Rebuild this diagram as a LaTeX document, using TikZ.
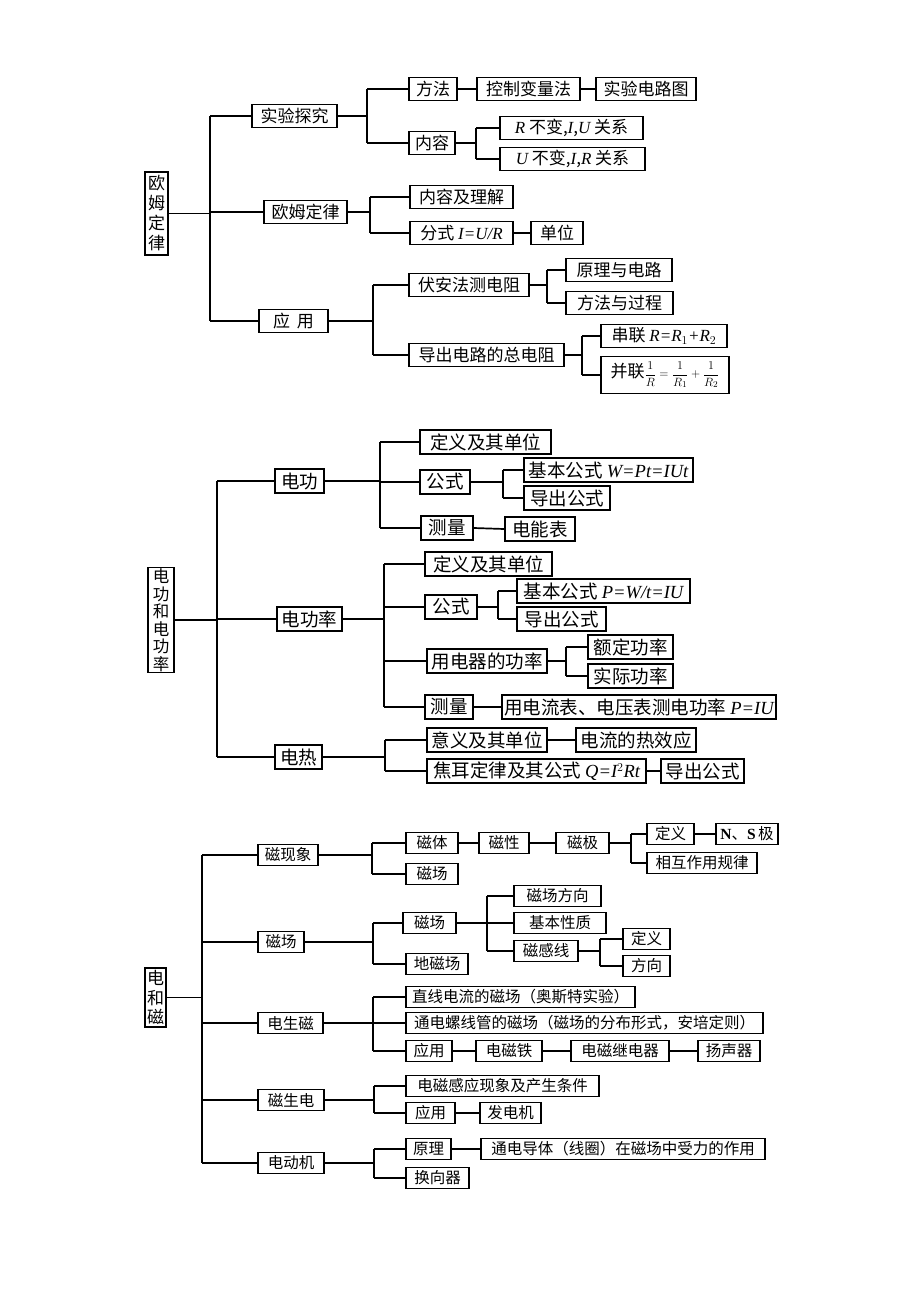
\documentclass[tikz,border=0pt]{standalone}
\usepackage{fontspec}
\setmainfont{Noto Sans CJK SC}
\newfontfamily\lib{Liberation Serif}
\newcommand\lv[1]{{\lib\itshape #1}}
\tikzset{
 bx/.style={draw,line width=1.7pt,inner sep=0pt,minimum height=23pt},
 ln/.style={line width=1.7pt},
}
\newcommand\bx[5]{\node[bx,minimum width={(#3)-(#2)}] (#1) at ({((#2)+(#3))/2},#4) {#5};}
\newcommand\brk[5]{%
 \coordinate (#1-b) at (#2,0);
 \draw[ln] (#1.east) -- (#1-b |- #1.east);
 \draw[ln] (#1-b |- #3.west) -- (#1-b |- #4.west);
 \foreach \c in {#5} {\draw[ln] (#1-b |- \c.west) -- (\c.west);}
}
\newcommand\ch[2]{\draw[ln] (#1.east) -- (#2.west);}
\begin{document}
\begin{tikzpicture}[x=1pt,y=-1pt]
\path[use as bounding box] (0,0) rectangle (920,1302);
\fill[white] (0,0) rectangle (920,1302);

% ---------------- Section 1 ----------------
\begin{scope}[bx/.append style={font=\fontsize{17pt}{20pt}\selectfont}]
\node[bx,minimum width=23,minimum height=83,align=center] (r1) at (156.5,213.5) {欧\\姆\\定\\律};
\bx{a1}{252}{337}{116}{实验探究}
\bx{a2}{264}{347}{212}{欧姆定律}
\bx{a3}{259}{328}{321}{应\hspace{7pt}用}
\brk{r1}{210}{a1}{a3}{a1,a2,a3}

\bx{a11}{409}{457}{89}{方法}
\bx{a111}{477}{580}{89}{控制变量法}
\bx{a112}{596}{696}{89}{实验电路图}
\ch{a11}{a111}\ch{a111}{a112}
\bx{a12}{409}{455}{143}{内容}
\brk{a1}{367}{a11}{a12}{a11,a12}
\bx{a121}{500}{643}{128}{\lv{R} 不变,\lv{I},\lv{U} 关系}
\bx{a122}{500}{645}{159}{\lv{U} 不变,\lv{I},\lv{R} 关系}
\brk{a12}{476}{a121}{a122}{a121,a122}

\bx{a21}{410}{513}{197}{内容及理解}
\bx{a22}{410}{513}{233}{分式 \lv{I=U/R}}
\bx{a221}{531}{583}{233}{单位}
\ch{a22}{a221}
\brk{a2}{370}{a21}{a22}{a21,a22}

\bx{a31}{409}{529}{285}{伏安法测电阻}
\bx{a32}{409}{564}{355}{导出电路的总电阻}
\brk{a3}{373}{a31}{a32}{a31,a32}
\bx{a311}{566}{672}{270}{原理与电路}
\bx{a312}{566}{673}{303}{方法与过程}
\brk{a31}{547}{a311}{a312}{a311,a312}
\bx{a321}{601}{727}{336}{串联 \lv{R=R}$_1$\lv{+R}$_2$}
\node[bx,minimum width=128,minimum height=37] (a322) at (665,375) {并联{\fontsize{13pt}{15pt}\selectfont$\displaystyle\frac{1}{R}=\frac{1}{R_1}+\frac{1}{R_2}$}};
\brk{a32}{582}{a321}{a322}{a321,a322}
\end{scope}

% ---------------- Section 2 ----------------
\begin{scope}[bx/.append style={font=\fontsize{18.5pt}{21pt}\selectfont,minimum height=24pt}]
\node[bx,minimum width=26,minimum height=105,align=center,font=\fontsize{16.5pt}{17.5pt}\selectfont] (r2) at (161,620) {电\\功\\和\\电\\功\\率};
\bx{b1}{275}{324}{481}{电功}
\bx{b2}{277}{342}{619}{电功率}
\bx{b3}{275}{322}{757}{电热}
\brk{r2}{217}{b1}{b3}{b1,b2,b3}

\bx{b11}{420}{551}{442}{定义及其单位}
\bx{b12}{420}{470}{482}{公式}
\bx{b13}{421}{473}{528}{测量}
\brk{b1}{380}{b11}{b13}{b11,b12,b13}
\bx{b121}{524}{693}{470}{基本公式 \lv{W=Pt=IUt}}
\bx{b122}{524}{610}{498}{导出公式}
\brk{b12}{503}{b121}{b122}{b121,b122}
\bx{b131}{505}{575}{529}{电能表}
\ch{b13}{b131}

\bx{b21}{425}{552}{564}{定义及其单位}
\bx{b22}{425}{477}{607}{公式}
\bx{b23}{427}{547}{661}{用电器的功率}
\bx{b24}{425}{473}{707}{测量}
\brk{b2}{384}{b21}{b24}{b21,b22,b23,b24}
\bx{b221}{517}{690}{591}{基本公式 \lv{P=W/t=IU}}
\bx{b222}{517}{606}{619}{导出公式}
\brk{b22}{498}{b221}{b222}{b221,b222}
\bx{b231}{588}{673}{647}{额定功率}
\bx{b232}{588}{673}{676}{实际功率}
\brk{b23}{566}{b231}{b232}{b231,b232}
\bx{b241}{502}{776}{707}{用电流表、电压表测电功率 \lv{P=IU}}
\ch{b24}{b241}

\bx{b31}{427}{547}{740}{意义及其单位}
\bx{b32}{427}{646}{771}{焦耳定律及其公式 \lv{Q=I}$^2$\lv{Rt}}
\brk{b3}{385}{b31}{b32}{b31,b32}
\bx{b311}{576}{696}{740}{电流的热效应}
\bx{b321}{661}{744}{771}{导出公式}
\ch{b31}{b311}\ch{b32}{b321}
\end{scope}

% ---------------- Section 3 ----------------
\begin{scope}[bx/.append style={font=\fontsize{15.5pt}{18pt}\selectfont,minimum height=21pt}]
\node[bx,minimum width=21,minimum height=59,align=center,font=\fontsize{17pt}{19.5pt}\selectfont] (r3) at (155.5,997.5) {电\\和\\磁};
\bx{c1}{258}{318}{855}{磁现象}
\bx{c2}{258}{304}{942}{磁场}
\bx{c3}{258}{323}{1023}{电生磁}
\bx{c4}{258}{324}{1100}{磁生电}
\bx{c5}{258}{324}{1163}{电动机}
\brk{r3}{202}{c1}{c5}{c1,c2,c3,c4,c5}

\bx{c11}{406}{458}{843}{磁体}
\bx{c12}{406}{458}{874}{磁场}
\brk{c1}{372}{c11}{c12}{c11,c12}
\bx{c111}{479}{529}{843}{磁性}
\bx{c112}{556}{609}{843}{磁极}
\ch{c11}{c111}\ch{c111}{c112}
\bx{c1121}{647}{694}{834}{定义}
\bx{c1122}{647}{757}{863}{相互作用规律}
\brk{c112}{631}{c1121}{c1122}{c1121,c1122}
\bx{c11211}{716}{778}{834}{{\lib\bfseries N}、{\lib\bfseries S}\,极}
\ch{c1121}{c11211}

\bx{c21}{403}{456}{923}{磁场}
\bx{c22}{406}{468}{964}{地磁场}
\brk{c2}{373}{c21}{c22}{c21,c22}
\bx{c211}{514}{601}{896}{磁场方向}
\bx{c212}{514}{606}{923}{基本性质}
\bx{c213}{514}{578}{951}{磁感线}
\brk{c21}{487}{c211}{c213}{c211,c212,c213}
\bx{c2131}{623}{670}{939}{定义}
\bx{c2132}{623}{670}{966}{方向}
\brk{c213}{600}{c2131}{c2132}{c2131,c2132}

\bx{c31}{406}{635}{997}{直线电流的磁场（奥斯特实验）}
\bx{c32}{406}{763}{1023}{通电螺线管的磁场（磁场的分布形式，安培定则）}
\bx{c33}{406}{452}{1051}{应用}
\brk{c3}{373}{c31}{c33}{c31,c32,c33}
\bx{c331}{476}{542}{1051}{电磁铁}
\bx{c332}{571}{669}{1051}{电磁继电器}
\bx{c333}{698}{760}{1051}{扬声器}
\ch{c33}{c331}\ch{c331}{c332}\ch{c332}{c333}

\bx{c41}{406}{599}{1086}{电磁感应现象及产生条件}
\bx{c42}{406}{455}{1113}{应用}
\brk{c4}{374}{c41}{c42}{c41,c42}
\bx{c421}{480}{541}{1113}{发电机}
\ch{c42}{c421}

\bx{c51}{406}{451}{1149}{原理}
\bx{c52}{406}{469}{1178}{换向器}
\brk{c5}{374}{c51}{c52}{c51,c52}
\bx{c511}{481}{765}{1149}{通电导体（线圈）在磁场中受力的作用}
\ch{c51}{c511}
\end{scope}
\end{tikzpicture}
\end{document}
